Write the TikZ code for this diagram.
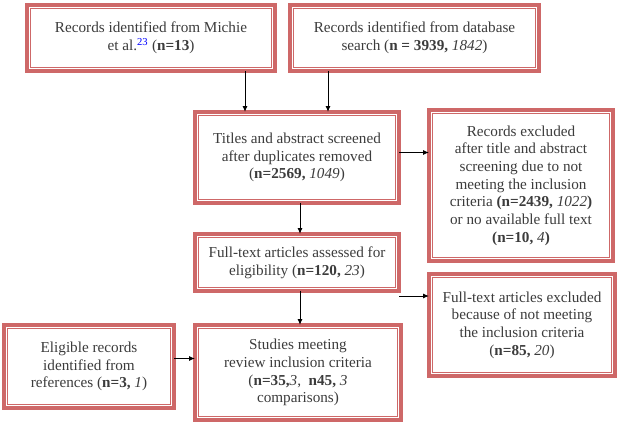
\documentclass[tikz,border=0pt]{standalone}
\usepackage{fontspec}
\setmainfont{Liberation Serif}
\usetikzlibrary{arrows.meta}
\definecolor{frame}{RGB}{206,104,104}
\definecolor{txtgray}{RGB}{60,60,60}
\tikzset{
  box/.style={draw=frame, line width=4pt, fill=white, align=center, inner sep=0pt, outer sep=0pt,
    text=txtgray, font=\fontsize{15.2}{17.7}\selectfont},
  arr/.style={-{Latex[length=6pt,width=5pt]}, line width=1pt, black}
}
\begin{document}
\begin{tikzpicture}[x=1pt,y=-1pt]
        \useasboundingbox (0,0) rectangle (623,424);
        \node[box, minimum width=248pt, minimum height=66pt] (michie) at (151,38)
          {Records identified from Michie\\et al.\textsuperscript{\color{blue}23} (\textbf{n=13})};
        \node[box, minimum width=249pt, minimum height=66pt] (db) at (414.5,38)
          {Records identified from database\\search (\textbf{n = 3939,} \textit{1842})};
        \node[box, minimum width=204pt, minimum height=91pt] (titles) at (297,157.5)
          {Titles and abstract screened\\after duplicates removed\\(\textbf{n=2569,} \textit{1049})};
        \node[box, minimum width=184pt, minimum height=151pt] (excl1) at (521,185.5)
          {Records excluded\\after title and abstract\\screening due to not\\meeting the inclusion\\criteria \textbf{(n=2439,} \textit{1022}\textbf{)}\\or no available full text\\\textbf{(n=10,} \textit{4}\textbf{)}};
        \node[box, minimum width=204pt, minimum height=57pt] (fulltext) at (297,262.5)
          {Full-text articles assessed for\\eligibility (\textbf{n=120,} \textit{23})};
        \node[box, minimum width=186pt, minimum height=102pt] (excl2) at (522,325)
          {Full-text articles excluded\\because of not meeting\\the inclusion criteria\\(\textbf{n=85,} \textit{20})};
        \node[box, minimum width=206pt, minimum height=95pt] (studies) at (298,372.5)
          {Studies meeting\\review inclusion criteria\\(\textbf{n=35,}\textit{3},~ \textbf{n45,} \textit{3}\\comparisons)};
        \node[box, minimum width=170pt, minimum height=83pt] (eligible) at (89,366.5)
          {Eligible records\\identified from\\references (\textbf{n=3,} \textit{1})};
        % inner frame lines
        \foreach \n in {michie,db,titles,excl1,fulltext,excl2,studies,eligible}
          \draw[frame, line width=0.9pt] ([shift={(3.8,3.8)}]\n.north west) rectangle ([shift={(-3.8,-3.8)}]\n.south east);
        % connectors
        \draw[arr] ([xshift=-30pt]michie.south east) -- ([xshift=-30pt]michie.south east |- titles.north);
        \draw[arr] ([xshift=38pt]db.south west) -- ([xshift=38pt]db.south west |- titles.north);
        \draw[arr] ([yshift=5pt]titles.east) -- ([yshift=5pt]titles.east -| excl1.west);
        \draw[arr] ([xshift=3pt]titles.south) -- ([xshift=3pt]titles.south |- fulltext.north);
        \draw[arr] ([yshift=-5pt]fulltext.south east) -- ([yshift=-5pt]fulltext.south east -| excl2.west);
        \draw[arr] ([xshift=3pt]fulltext.south) -- ([xshift=3pt]fulltext.south |- studies.north);
        \draw[arr] ([yshift=8pt]eligible.east) -- ([yshift=8pt]eligible.east -| studies.west);
\end{tikzpicture}
\end{document}
